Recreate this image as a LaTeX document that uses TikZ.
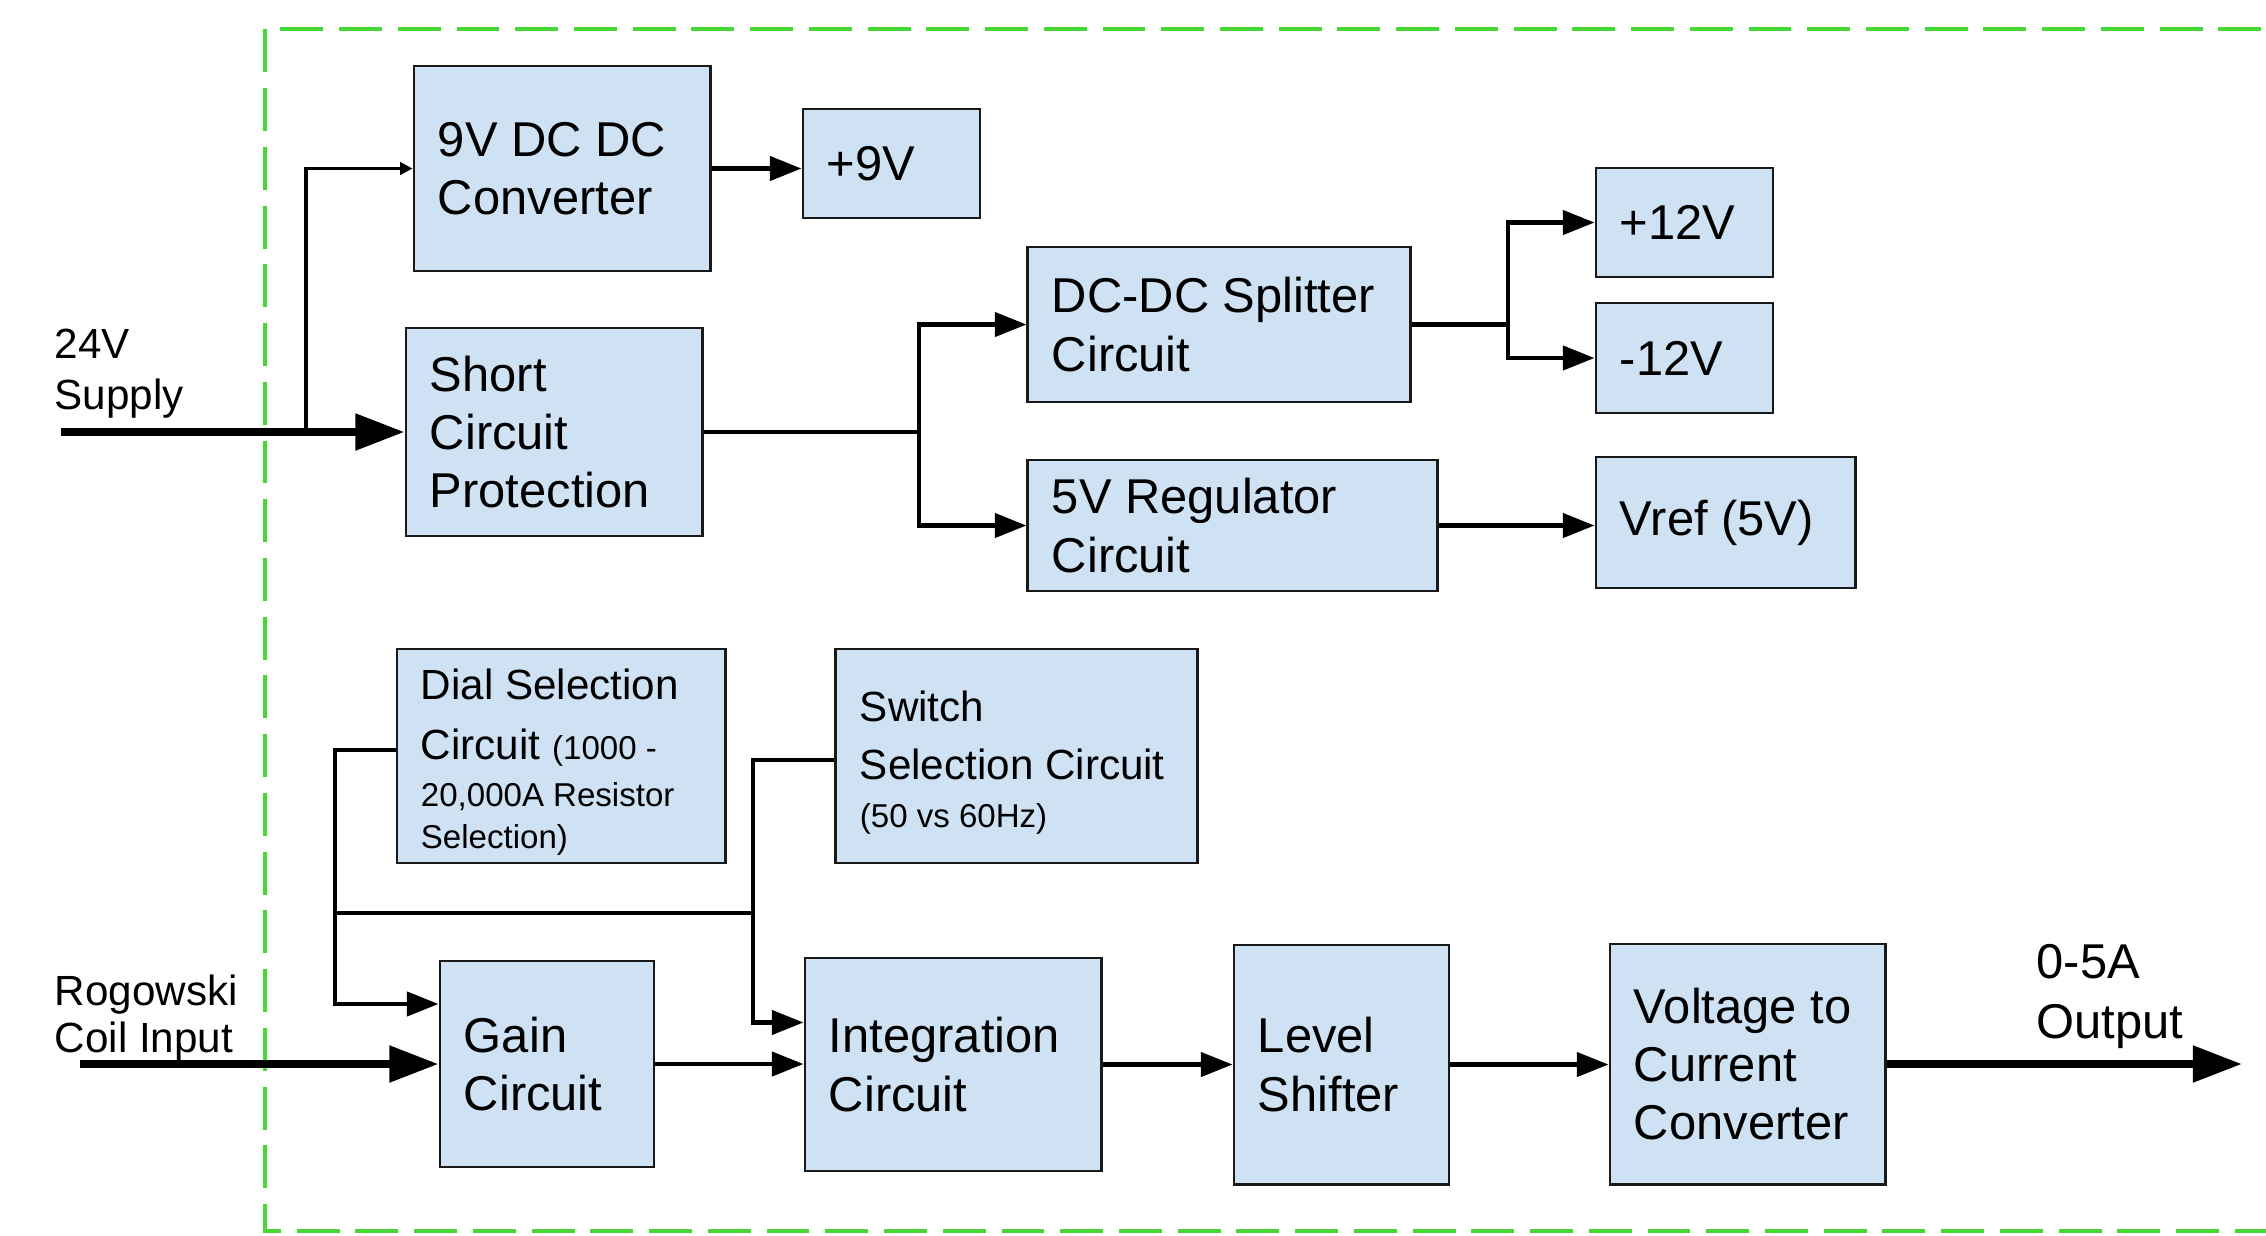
\documentclass[tikz,border=0pt]{standalone}
\usepackage{fontspec}
\setmainfont{Liberation Sans}
\usetikzlibrary{arrows.meta,calc}
\definecolor{boxfill}{HTML}{CFE2F3}
\definecolor{framegreen}{RGB}{70,215,55}
\newcommand\ftbig{\fontsize{13.9pt}{16.5pt}\selectfont}
\newcommand\ftmed{\fontsize{12pt}{14.5pt}\selectfont}
\newcommand\ftsm{\fontsize{9.4pt}{12pt}\selectfont}
\begin{document}
\begin{tikzpicture}[x=0.01cm,y=-0.01cm,
  blk/.style={draw=black!90, line width=0.8pt, fill=boxfill, align=flush left,
    inner xsep=0.24cm, inner ysep=0pt, font=\ftbig, text=black},
  lbl/.style={align=flush left, inner sep=0pt, anchor=north west},
  conn/.style={draw=black, line width=1.3pt},
  heavy/.style={draw=black, line width=2.3pt},
  tipM/.style={-{Triangle[length=9pt,width=6.8pt]}},
  tipL/.style={-{Triangle[length=14pt,width=10pt]}},
  tipS/.style={-{Triangle[length=3.5pt,width=3.5pt]}},
  frame/.style={draw=framegreen, line width=1.4pt, dash pattern=on 12.2pt off 4.5pt}
]
\useasboundingbox (0,0) rectangle (2266,1235);
\begin{scope}
\clip (0,0) rectangle (2266,1235);
\draw[frame] (2320,29) -- (265,29) -- (265,1231) -- (2320,1231);
\end{scope}

% upper boxes
\node[blk, minimum width=2.96cm, minimum height=2.05cm, text width=2.48cm] (conv9) at (562,168.5) {9V DC DC\\Converter};
\node[blk, minimum width=1.77cm, minimum height=1.09cm, text width=1.29cm] (p9) at (891.5,163.5) {+9V};
\node[blk, minimum width=2.96cm, minimum height=2.08cm, text width=2.48cm] (scp) at (554,432) {Short\\Circuit\\Protection};
\node[blk, minimum width=3.82cm, minimum height=1.55cm, text width=3.34cm] (split) at (1219,324.5) {DC-DC Splitter\\Circuit};
\node[blk, minimum width=4.09cm, minimum height=1.31cm, text width=3.61cm] (reg5) at (1232.5,525.5) {5V Regulator\\Circuit};
\node[blk, minimum width=1.77cm, minimum height=1.09cm, text width=1.29cm] (p12) at (1684.5,222.5) {+12V};
\node[blk, minimum width=1.77cm, minimum height=1.10cm, text width=1.29cm] (m12) at (1684.5,358) {-12V};
\node[blk, minimum width=2.59cm, minimum height=1.31cm, text width=2.11cm] (vref) at (1725.5,522.5) {Vref (5V)};

% lower boxes
\node[blk, minimum width=3.28cm, minimum height=2.14cm, text width=2.80cm, font=\fontsize{12pt}{17.1pt}\selectfont] (dial) at (561,756)
  {\rule{0pt}{12.2pt}Dial Selection\\Circuit {\ftsm(1000 -}\\[-3.7pt]{\ftsm 20,000A Resistor}\\[-5.1pt]{\ftsm Selection)}};
\node[blk, minimum width=3.61cm, minimum height=2.14cm, text width=3.13cm, font=\fontsize{12pt}{16.5pt}\selectfont] (sw) at (1016.5,756)
  {\rule{0pt}{12.4pt}Switch\\Selection Circuit\\[-2.8pt]{\ftsm(50 vs 60Hz)}};
\node[blk, minimum width=2.14cm, minimum height=2.06cm, text width=1.66cm] (gain) at (547,1064) {Gain\\Circuit};
\node[blk, minimum width=2.96cm, minimum height=2.13cm, text width=2.48cm] (integ) at (953,1064.5) {Integration\\Circuit};
\node[blk, minimum width=2.15cm, minimum height=2.39cm, text width=1.67cm] (level) at (1341.5,1064.5) {Level\\Shifter};
\node[blk, minimum width=2.75cm, minimum height=2.40cm, text width=2.27cm] (v2c) at (1747.5,1064) {Voltage to\\Current\\Converter};

% outside labels
\node[lbl, font=\fontsize{12pt}{14.5pt}\selectfont] (lsup) at (54,328) {24V\\Supply};
\node[lbl, font=\fontsize{12pt}{13.4pt}\selectfont] (lrog) at (54,974) {Rogowski\\Coil Input};
\node[lbl, font=\fontsize{13.9pt}{17pt}\selectfont] (lout) at (2036,944) {0-5A\\Output};

% coordinates
\coordinate (in24) at (61,432);
\coordinate (j1) at (306,432);
\coordinate (j2) at (919,432);
\coordinate (j3) at (1508,324.5);
\coordinate (inrog) at (80,1064);
\coordinate (outend) at (2242,1064);
\coordinate (b1) at (335,913);
\coordinate (b2) at (753,913);

% upper connectors
\draw[heavy, tipL] (in24) -- (scp.west);
\draw[conn, line width=1pt, tipS] (j1) |- (conv9.west);
\draw[conn, tipM] (conv9.east) -- (conv9.east -| p9.west);
\draw[conn] (scp.east) -- (j2);
\draw[conn, tipM] (j2) |- (split.west);
\draw[conn, tipM] (j2) |- (reg5.west);
\draw[conn] (split.east) -- (j3);
\draw[conn, tipM] (j3) |- (p12.west);
\draw[conn, tipM] (j3) |- (m12.west);
\draw[conn, tipM] (reg5.east) -- (reg5.east -| vref.west);

% lower connectors
\draw[heavy, tipL] (inrog) -- (gain.west);
\draw[conn, tipM] (gain.east) -- (gain.east -| integ.west);
\draw[conn, tipM] (integ.east) -- (integ.east -| level.west);
\draw[conn, tipM] (level.east) -- (level.east -| v2c.west);
\draw[heavy, tipL] (v2c.east) -- (outend);
\draw[conn, tipM] ([yshift=0.06cm]dial.west) -| (b1) |- ([yshift=0.6cm]gain.west);
\draw[conn] (b1) -- (b2);
\draw[conn, tipM] ([yshift=-0.04cm]sw.west) -| (b2) |- ([yshift=0.42cm]integ.west);
\end{tikzpicture}
\end{document}
